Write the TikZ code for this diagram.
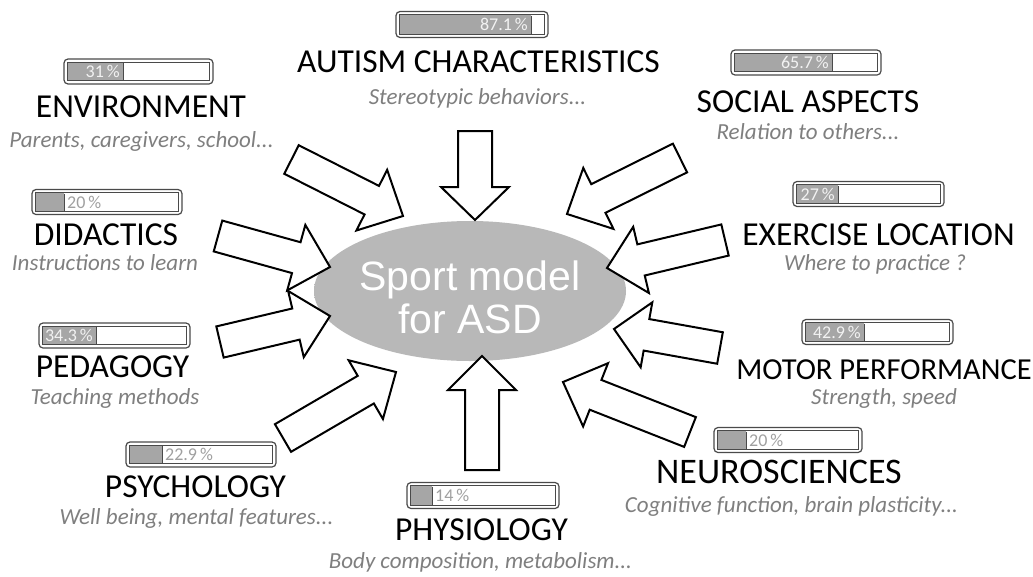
\documentclass[tikz,border=0pt]{standalone}
\usepackage{fontspec}
\setmainfont{Carlito}
\newfontfamily\arialf{Liberation Sans}
\usetikzlibrary{calc}
\definecolor{subgray}{HTML}{7F7F7F}
\definecolor{barfillc}{HTML}{A6A6A6}
\definecolor{bardark}{HTML}{4A4A4A}
\definecolor{ellg}{HTML}{B8B8B8}
\definecolor{pctinc}{HTML}{F2F2F2}
\definecolor{pctoutc}{HTML}{A0A0A0}
\pgfdeclareradialshading{softell}{\pgfpoint{0bp}{0bp}}{color(0bp)=(ellg); color(39bp)=(ellg); color(50bp)=(white)}
\tikzset{
  blk/.style={draw=black, fill=white, line width=2pt, line join=miter},
  ttl/.style={anchor=base, font=\fontsize{33.5}{33.5}\selectfont, text=black, inner sep=0pt},
  subt/.style={anchor=base, font=\fontsize{23}{23}\selectfont\itshape, text=subgray, inner sep=0pt},
  barout/.style={draw=bardark, line width=1.2pt, rounded corners=4pt, fill=white, inner sep=0pt},
  barin/.style={draw=bardark, line width=1pt},
  pct/.style={font=\fontsize{18}{18}\selectfont, inner sep=0pt},
  pin/.style={pct, text=pctinc, anchor=east, xshift=-3pt},
  pout/.style={pct, text=pctoutc, anchor=west, xshift=3pt},
}
% name, cx, cy, w, h, fill x, label, label style
\newcommand\pbar[8]{%
  \node[barout, minimum width=#4pt, minimum height=#5pt] (#1) at (#2,#3) {};
  \fill[barfillc] ($(#1.north west)+(4,4)$) rectangle ({#6},{#3+#5/2-4});
  \draw[barin] ($(#1.north west)+(4,4)$) rectangle ($(#1.south east)+(-4,-4)$);
  \draw[barin] ({#6},{#3-#5/2+4}) -- ({#6},{#3+#5/2-4});
  \node[#8] (#1-t) at ({#6},#3) {#7};
}
% name, tail, tip, shaft half width, head half width, head length
\newcommand\blockarrow[6]{%
  \coordinate (#1-hb) at ($(#3)!#6pt!(#2)$);
  \draw[blk] ($(#2)!#4pt!90:(#3)$) -- ($(#1-hb)!#4pt!90:(#3)$) -- ($(#1-hb)!#5pt!90:(#3)$)
    -- (#3) -- ($(#1-hb)!#5pt!-90:(#3)$) -- ($(#1-hb)!#4pt!-90:(#3)$) -- ($(#2)!#4pt!-90:(#3)$) -- cycle;
}
\begin{document}
\begin{tikzpicture}[x=1pt,y=-1pt]
\useasboundingbox[fill=white] (0,0) rectangle (1033,576);

% centre ellipse
\shade[shading=softell] (470,291) ellipse [x radius=156, y radius=70];
\node[font=\arialf\fontsize{41}{43}\selectfont, text=white, align=center, inner sep=0pt] (center) at (470,297) {Sport model\\for ASD};

% arrows
\coordinate (a1t) at (475,131);   \coordinate (a1h) at (475,220);
\coordinate (a2t) at (291.5,159.5); \coordinate (a2h) at (403,216);
\coordinate (a3t) at (680,158);   \coordinate (a3h) at (567,214);
\coordinate (a4t) at (218,236);   \coordinate (a4h) at (330,267);
\coordinate (a5t) at (725,240);   \coordinate (a5h) at (607,268);
\coordinate (a6t) at (220,342);   \coordinate (a6h) at (330,316);
\coordinate (a7t) at (720,348);   \coordinate (a7h) at (614,329);
\coordinate (a8t) at (283,438);   \coordinate (a8h) at (396,372);
\coordinate (a9t) at (690,432);   \coordinate (a9h) at (563,382);
\coordinate (a10t) at (482,470);  \coordinate (a10h) at (482,356);
\blockarrow{a1}{a1t}{a1h}{17}{34}{33}
\blockarrow{a2}{a2t}{a2h}{16}{34}{35}
\blockarrow{a3}{a3t}{a3h}{16}{34}{35}
\blockarrow{a4}{a4t}{a4h}{16}{34}{35}
\blockarrow{a5}{a5t}{a5h}{16}{34}{35}
\blockarrow{a6}{a6t}{a6h}{16}{34}{35}
\blockarrow{a7}{a7t}{a7h}{16}{33}{33}
\blockarrow{a8}{a8t}{a8h}{16}{34}{35}
\blockarrow{a9}{a9t}{a9h}{16}{34}{35}
\blockarrow{a10}{a10t}{a10h}{17}{34}{34}

% progress bars
\pbar{baut}{472}{24.5}{152}{26}{531}{87.1\,\%}{pin}
\pbar{benv}{138.5}{71.5}{149}{25}{123}{31\,\%}{pin}
\pbar{bsoc}{806}{62.5}{150}{25}{832}{65.7\,\%}{pin}
\pbar{bdid}{107}{202}{150}{25}{64}{20\,\%}{pout}
\pbar{bexe}{868.5}{194}{151}{25}{838}{27\,\%}{pin}
\pbar{bped}{114.5}{335.5}{151}{25}{96}{34.3\,\%}{pin}
\pbar{bmot}{877.5}{332}{151}{25}{864}{42.9\,\%}{pin}
\pbar{bpsy}{201}{454.5}{150}{25}{162}{22.9\,\%}{pout}
\pbar{bneu}{788}{440}{148}{25}{746}{20\,\%}{pout}
\pbar{bphy}{483}{495.5}{152}{26}{432}{14\,\%}{pout}

% titles
\node[ttl] (taut) at (478.5,72) {AUTISM CHARACTERISTICS};
\node[subt] (saut) at (477.5,104) {Stereotypic behaviors...};
\node[ttl] (tenv) at (141,117) {ENVIRONMENT};
\node[subt] (senv) at (141.5,147) {Parents, caregivers, school...};
\node[ttl] (tsoc) at (808,112) {SOCIAL ASPECTS};
\node[subt] (ssoc) at (808,139) {Relation to others...};
\node[ttl] (tdid) at (106,245) {DIDACTICS};
\node[subt] (sdid) at (105,270) {Instructions to learn};
\node[ttl] (texe) at (878.5,245) {EXERCISE LOCATION};
\node[subt] (sexe) at (875,270) {Where to practice ?};
\node[ttl] (tped) at (112.5,377) {PEDAGOGY};
\node[subt] (sped) at (115,404) {Teaching methods};
\node[ttl, font=\fontsize{30.5}{30.5}\selectfont] (tmot) at (884,379) {MOTOR PERFORMANCE};
\node[subt] (smot) at (884,404) {Strength, speed};
\node[ttl] (tpsy) at (195.5,497) {PSYCHOLOGY};
\node[subt] (spsy) at (196.5,524) {Well being, mental features...};
\node[ttl, font=\fontsize{36}{36}\selectfont] (tneu) at (779,483) {NEUROSCIENCES};
\node[subt] (sneu) at (791.5,512) {Cognitive function, brain plasticity...};
\node[ttl] (tphy) at (481.5,540) {PHYSIOLOGY};
\node[subt] (sphy) at (480.5,568) {Body composition, metabolism...};
\end{tikzpicture}
\end{document}
